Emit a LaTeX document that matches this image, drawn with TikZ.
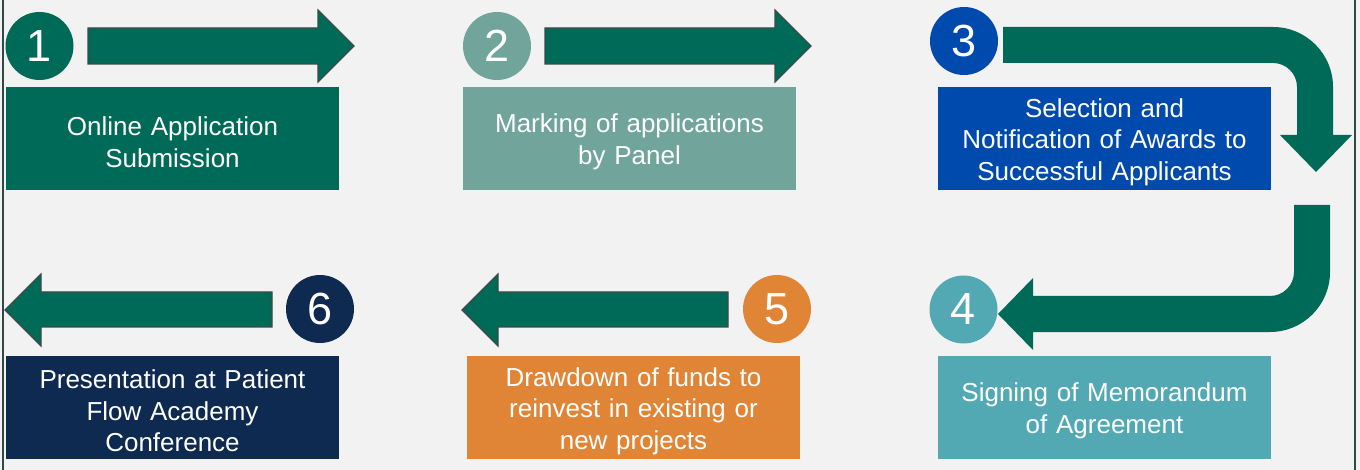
\documentclass[tikz,border=0pt]{standalone}
\usepackage{fontspec}
\setmainfont{Liberation Sans}
\definecolor{bg}{HTML}{F2F2F2}
\definecolor{grn}{HTML}{006A58}
\definecolor{outl}{HTML}{3B4A46}
\definecolor{sage}{HTML}{71A59B}
\definecolor{royal}{HTML}{004AAD}
\definecolor{aqua}{HTML}{52A9B3}
\definecolor{orng}{HTML}{E08536}
\definecolor{navy}{HTML}{0E2A50}
\definecolor{edge}{HTML}{2F4A45}
\tikzset{
  stepbox/.style={rectangle, inner sep=0pt, minimum width=333pt, minimum height=103pt,
    text width=325pt, align=center, text=white, font=\fontsize{26}{31.5}\selectfont},
  steptext/.style={inner sep=0pt, text width=325pt, align=center, text=white,
    font=\fontsize{26}{31.5}\selectfont, yshift=-3.5pt},
  numdot/.style={circle, inner sep=0pt, minimum size=68pt, text=white,
    font=\fontsize{45}{45}\selectfont},
  blockarrow/.style={fill=grn, draw=outl, line width=1.2pt, line join=miter},
  bentarrow/.style={fill=grn},
  border/.style={draw=edge, line width=2.2pt}
}
\begin{document}
\begin{tikzpicture}[x=1pt, y=-1pt]
\useasboundingbox (0,0) rectangle (1360,470);
\fill[bg] (0,0) rectangle (1360,470);
\draw[border] (3,0) -- (3,470);
\draw[border] (1355,0) -- (1355,470);

% boxes
\node[stepbox, fill=grn]   (b1) at (172.5,138.5) {};
\node[stepbox, fill=sage]  (b2) at (629.5,138.5) {};
\node[stepbox, fill=royal] (b3) at (1104.5,138.5) {};
\node[stepbox, fill=aqua]  (b4) at (1104.5,407.5) {};
\node[stepbox, fill=orng]  (b5) at (633.5,407.5) {};
\node[stepbox, fill=navy]  (b6) at (172.5,407.5) {};
\node[steptext] (t1) at (b1.center) {Online Application\\Submission};
\node[steptext] (t2) at (b2.center) {Marking of applications\\by Panel};
\node[steptext] (t3) at (b3.center) {Selection and\\Notification of Awards to\\Successful Applicants};
\node[steptext] (t4) at (b4.center) {Signing of Memorandum\\of Agreement};
\node[steptext] (t5) at (b5.center) {Drawdown of funds to\\reinvest in existing or\\new projects};
\node[steptext] (t6) at (b6.center) {Presentation at Patient\\Flow Academy\\Conference};

% numbers
\node[numdot, fill=grn]   (n1) at (39.5,46) {1};
\node[numdot, fill=sage]  (n2) at (497,46) {2};
\node[numdot, fill=royal] (n3) at (964,41) {3};
\node[numdot, fill=aqua]  (n4) at (963.5,309.5) {4};
\node[numdot, fill=orng]  (n5) at (777,309) {5};
\node[numdot, fill=navy]  (n6) at (320,309) {6};

% straight arrows
\draw[blockarrow] (88,28) -- (318,28) -- (318,10) -- (354,46) -- (318,82) -- (318,64) -- (88,64) -- cycle;
\draw[blockarrow] (545,28) -- (775,28) -- (775,10) -- (811,46) -- (775,82) -- (775,64) -- (545,64) -- cycle;
\draw[blockarrow] (728,292) -- (498,292) -- (498,274) -- (462,310) -- (498,346) -- (498,327) -- (728,327) -- cycle;
\draw[blockarrow] (272,292) -- (41,292) -- (41,274) -- (5,310) -- (41,346) -- (41,327) -- (272,327) -- cycle;

% bent arrow 3 -> down
\fill[bentarrow] (1003,27) -- (1273,27) arc[start angle=-90, end angle=0, radius=60]
  -- (1333,135) -- (1352,135) -- (1316,172) -- (1280,135) -- (1297,135) -- (1297,87)
  arc[start angle=0, end angle=-90, radius=24] -- (1003,63) -- cycle;

% bent arrow down -> 4
\fill[bentarrow] (1294,205) -- (1330,205) -- (1330,272) arc[start angle=0, end angle=90, radius=60]
  -- (1033,332) -- (1033,350) -- (998,314) -- (1033,278) -- (1033,296) -- (1270,296)
  arc[start angle=90, end angle=0, radius=24] -- cycle;
\end{tikzpicture}
\end{document}
